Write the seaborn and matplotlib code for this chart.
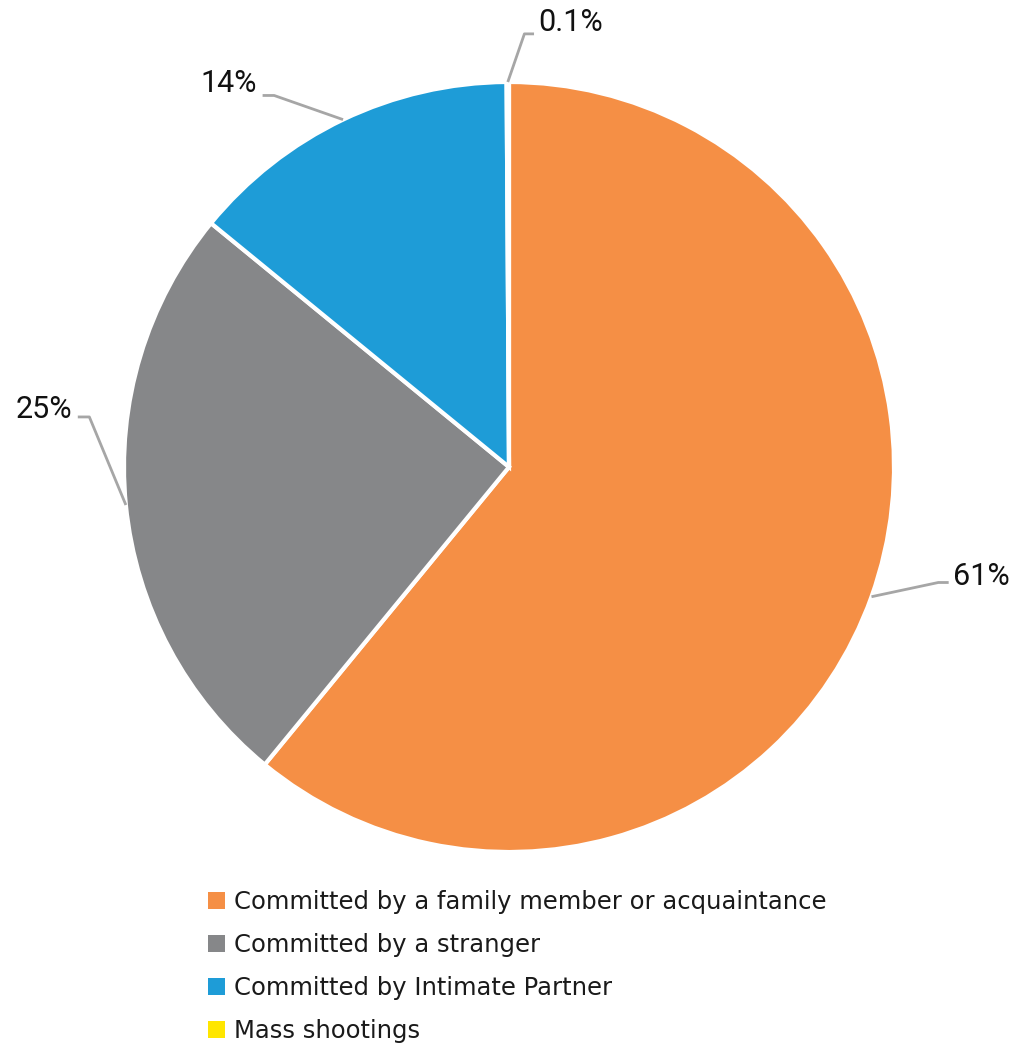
import numpy as np
import seaborn as sns
import matplotlib
matplotlib.use("Agg")
import matplotlib.pyplot as plt

sns.set_theme(style="white")
plt.rcParams["font.family"] = ["DejaVu Sans"]

categories = [
    "Committed by a family member or acquaintance",
    "Committed by a stranger",
    "Committed by Intimate Partner",
    "Mass shootings",
]
shares = [61, 25, 14, 0.1]
share_labels = ["61%", "25%", "14%", "0.1%"]
colors = ["#F58F45", "#868789", "#1E9CD7", "#FFE600"]

# label layout: (elbow x, elbow y, text x, text y, ha) in pie units
label_layout = [
    (1.115, -0.30, 1.152, -0.285, "left"),
    (-1.09, 0.13, -1.135, 0.15, "right"),
    (-0.61, 0.965, -0.655, 0.995, "right"),
    (0.04, 1.125, 0.075, 1.155, "left"),
]

fig = plt.figure(figsize=(10.14, 10.47), dpi=100)
W, H = 1014, 1047
cx, cy, r = 509, 467, 385
ax = fig.add_axes([(cx - r) / W, 1 - (cy + r) / H, 2 * r / W, 2 * r / H])

wedges, _ = ax.pie(
    shares,
    colors=colors,
    startangle=90,
    counterclock=False,
    radius=1,
    wedgeprops=dict(edgecolor="white", linewidth=3),
)
ax.set_xlim(-1, 1)
ax.set_ylim(-1, 1)
ax.set_aspect("equal")
ax.axis("off")

for w, lab, (ex, ey, tx, ty, ha) in zip(wedges, share_labels, label_layout):
    mid = np.deg2rad((w.theta1 + w.theta2) / 2)
    px, py = np.cos(mid), np.sin(mid)
    hx = tx - 0.01 if ha == "left" else tx + 0.015
    ax.plot([px, ex, hx], [py, ey, ey], color="#A6A6A6", lw=2,
            solid_capstyle="butt", clip_on=False)
    ax.text(tx, ty, lab, ha=ha, va="center", fontsize=22, color="#111111",
            family=["Roboto", "DejaVu Sans"], clip_on=False)

leg = fig.legend(
    wedges, categories,
    loc="upper left",
    bbox_to_anchor=(198 / W, 1 - 880 / H),
    frameon=False,
    fontsize=17.5,
    handlelength=0.7,
    handleheight=0.7,
    handletextpad=0.4,
    labelspacing=0.78,
    borderaxespad=0,
)
for h in leg.legend_handles:
    h.set_edgecolor("none")
for t in leg.get_texts():
    t.set_color("#1a1a1a")

fig.savefig("out.png", dpi=100, facecolor="white")
